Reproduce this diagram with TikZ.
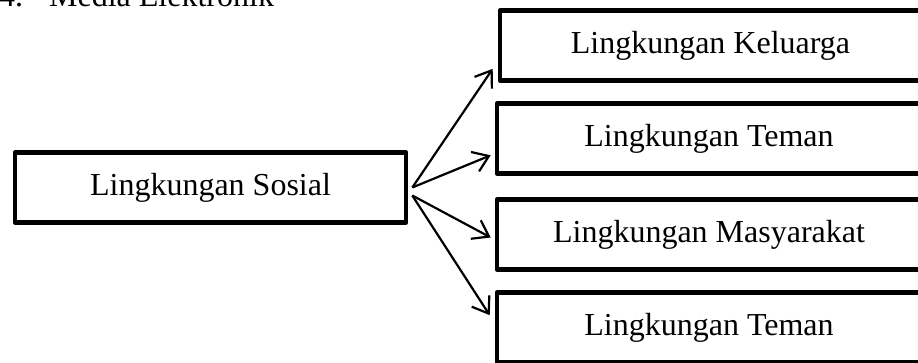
\documentclass[tikz,border=0pt]{standalone}
\usepackage{fontspec}
\setmainfont{Liberation Serif}
\usetikzlibrary{arrows.meta,calc}
\begin{document}
\begin{tikzpicture}[x=1pt,y=1pt,
  box/.style={draw,line width=4.6pt,line join=round,rectangle,inner sep=0pt,
    minimum height=70pt,font=\fontsize{32}{32}\selectfont},
  link/.style={line width=2.2pt,-{Straight Barb[length=15pt,width=21pt,line width=2.2pt]}}]
\useasboundingbox (0,0) rectangle (918,362);
% heading line above the diagram
\node[anchor=base west,inner sep=0pt,font=\fontsize{32}{32}\selectfont] (head) at (-1,355) {4.\hspace{26pt}Media Elektronik};
% source box
\node[box,minimum width=391pt] (sos) at (210.5,174.5) {Lingkungan Sosial};
% target boxes
\node[box,minimum width=421pt] (kel) at (710.5,316.5) {Lingkungan Keluarga};
\node[box,minimum width=424pt] (tem) at (709,223.5) {Lingkungan Teman};
\node[box,minimum width=424pt] (mas) at (709,127.5) {Lingkungan Masyarakat};
\node[box,minimum width=424pt] (tem2) at (709,34.5) {Lingkungan Teman};
% fan-out points on the right side of the source box
\coordinate (o1) at ($(sos.east)+(4,0)$);
\coordinate (o2) at ($(sos.east)+(4,-8)$);
% arrow tips against the left sides of the targets
\coordinate (t1) at ($(kel.south west)+(-5,14)$);
\coordinate (t2) at ($(tem.south west)+(-4,20.5)$);
\coordinate (t3) at ($(mas.west)+(-4,-3)$);
\coordinate (t4) at ($(tem2.north west)+(-5,-25)$);
\draw[link] (o1) -- (t1);
\draw[link] (o1) -- (t2);
\draw[link] (o2) -- (t3);
\draw[link] (o2) -- (t4);
\end{tikzpicture}
\end{document}
